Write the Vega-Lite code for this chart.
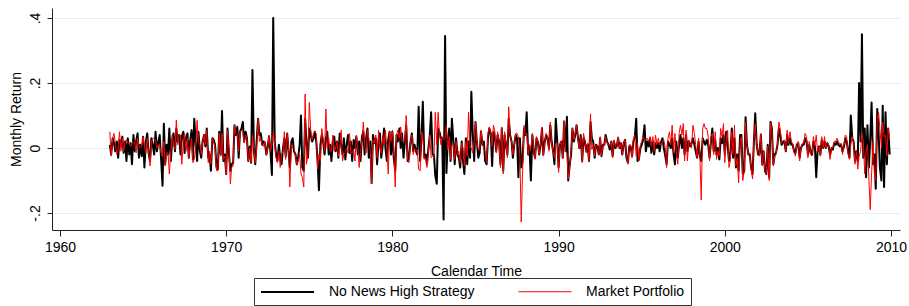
{
"$schema":"https://vega.github.io/schema/vega-lite/v6.json",
"width":848,"height":222,
"autosize":{"type":"none"},
"padding":{"left":52,"top":8,"right":9,"bottom":76},
"background":"white",
"config":{"view":{"stroke":null},"font":"Liberation Sans"},
"datasets":{"r":[
{"t":1963.00,"n":0.01,"m":0.05},{"t":1963.08,"n":-0.02,"m":-0.025},{"t":1963.17,"n":0.03,"m":0.03},{"t":1963.25,"n":0.015,"m":0.045},{"t":1963.33,"n":-0.01,"m":0.015},{"t":1963.42,"n":0.02,"m":-0.02},{"t":1963.50,"n":-0.03,"m":-0.005},{"t":1963.58,"n":0.025,"m":0.05},{"t":1963.67,"n":0.005,"m":-0.01},{"t":1963.75,"n":0.035,"m":0.03},{"t":1963.83,"n":-0.015,"m":-0.01},{"t":1963.92,"n":0.02,"m":0.02},
{"t":1964.00,"n":-0.04,"m":0.025},{"t":1964.08,"n":0.03,"m":0.015},{"t":1964.17,"n":-0.02,"m":0.015},{"t":1964.25,"n":0.015,"m":0.005},{"t":1964.33,"n":-0.05,"m":0.015},{"t":1964.42,"n":0.04,"m":0.015},{"t":1964.50,"n":-0.01,"m":0.02},{"t":1964.58,"n":0.02,"m":-0.015},{"t":1964.67,"n":0.045,"m":0.03},{"t":1964.75,"n":-0.03,"m":0.01},{"t":1964.83,"n":0.01,"m":0.0},{"t":1964.92,"n":-0.025,"m":0.005},
{"t":1965.00,"n":0.035,"m":0.035},{"t":1965.08,"n":-0.06,"m":0.005},{"t":1965.17,"n":0.02,"m":-0.015},{"t":1965.25,"n":0.045,"m":0.03},{"t":1965.33,"n":-0.015,"m":-0.01},{"t":1965.42,"n":-0.04,"m":-0.055},{"t":1965.50,"n":0.03,"m":0.015},{"t":1965.58,"n":0.01,"m":0.03},{"t":1965.67,"n":-0.02,"m":0.03},{"t":1965.75,"n":0.05,"m":0.025},{"t":1965.83,"n":-0.01,"m":0.0},{"t":1965.92,"n":0.02,"m":0.01},
{"t":1966.00,"n":0.04,"m":0.005},{"t":1966.08,"n":-0.03,"m":-0.015},{"t":1966.17,"n":-0.116,"m":-0.025},{"t":1966.25,"n":0.075,"m":0.02},{"t":1966.33,"n":-0.05,"m":-0.055},{"t":1966.42,"n":0.01,"m":-0.015},{"t":1966.50,"n":-0.02,"m":-0.015},{"t":1966.58,"n":0.06,"m":-0.08},{"t":1966.67,"n":-0.04,"m":-0.01},{"t":1966.75,"n":0.025,"m":0.04},{"t":1966.83,"n":0.045,"m":0.01},{"t":1966.92,"n":-0.01,"m":-0.005},
{"t":1967.00,"n":0.06,"m":0.086},{"t":1967.08,"n":0.02,"m":0.01},{"t":1967.17,"n":0.04,"m":0.04},{"t":1967.25,"n":-0.02,"m":0.04},{"t":1967.33,"n":0.035,"m":-0.05},{"t":1967.42,"n":0.05,"m":0.02},{"t":1967.50,"n":-0.015,"m":0.045},{"t":1967.58,"n":0.03,"m":-0.01},{"t":1967.67,"n":0.045,"m":0.03},{"t":1967.75,"n":-0.03,"m":-0.03},{"t":1967.83,"n":0.02,"m":0.005},{"t":1967.92,"n":0.055,"m":0.03},
{"t":1968.00,"n":-0.035,"m":-0.045},{"t":1968.08,"n":0.09,"m":-0.035},{"t":1968.17,"n":0.01,"m":0.005},{"t":1968.25,"n":-0.04,"m":0.085},{"t":1968.33,"n":0.05,"m":0.02},{"t":1968.42,"n":-0.01,"m":0.01},{"t":1968.50,"n":-0.03,"m":-0.02},{"t":1968.58,"n":0.02,"m":0.015},{"t":1968.67,"n":0.04,"m":0.04},{"t":1968.75,"n":0.005,"m":0.01},{"t":1968.83,"n":0.06,"m":0.055},{"t":1968.92,"n":-0.03,"m":-0.045},
{"t":1969.00,"n":-0.02,"m":-0.01},{"t":1969.08,"n":-0.07,"m":-0.05},{"t":1969.17,"n":0.03,"m":0.03},{"t":1969.25,"n":0.025,"m":0.02},{"t":1969.33,"n":0.01,"m":0.0},{"t":1969.42,"n":-0.06,"m":-0.07},{"t":1969.50,"n":-0.065,"m":-0.07},{"t":1969.58,"n":0.05,"m":0.045},{"t":1969.67,"n":-0.02,"m":-0.025},{"t":1969.75,"n":0.114,"m":0.045},{"t":1969.83,"n":-0.04,"m":-0.035},{"t":1969.92,"n":-0.02,"m":-0.025},
{"t":1970.00,"n":-0.08,"m":-0.08},{"t":1970.08,"n":0.06,"m":0.055},{"t":1970.17,"n":-0.02,"m":-0.005},{"t":1970.25,"n":-0.07,"m":-0.11},{"t":1970.33,"n":-0.05,"m":-0.06},{"t":1970.42,"n":-0.045,"m":-0.055},{"t":1970.50,"n":0.07,"m":0.07},{"t":1970.58,"n":0.04,"m":0.045},{"t":1970.67,"n":0.065,"m":0.04},{"t":1970.75,"n":-0.03,"m":-0.01},{"t":1970.83,"n":0.05,"m":0.05},{"t":1970.92,"n":0.06,"m":0.055},
{"t":1971.00,"n":0.08,"m":0.05},{"t":1971.08,"n":0.02,"m":0.015},{"t":1971.17,"n":0.05,"m":0.04},{"t":1971.25,"n":0.03,"m":0.03},{"t":1971.33,"n":-0.04,"m":-0.04},{"t":1971.42,"n":0.005,"m":0.0},{"t":1971.50,"n":-0.045,"m":-0.045},{"t":1971.58,"n":0.24,"m":0.04},{"t":1971.67,"n":-0.01,"m":-0.005},{"t":1971.75,"n":-0.05,"m":-0.045},{"t":1971.83,"n":0.02,"m":-0.005},{"t":1971.92,"n":0.09,"m":0.09},
{"t":1972.00,"n":0.04,"m":0.02},{"t":1972.08,"n":0.045,"m":0.03},{"t":1972.17,"n":0.01,"m":0.01},{"t":1972.25,"n":0.02,"m":0.005},{"t":1972.33,"n":0.015,"m":0.02},{"t":1972.42,"n":-0.02,"m":-0.02},{"t":1972.50,"n":0.005,"m":0.0},{"t":1972.58,"n":0.035,"m":0.04},{"t":1972.67,"n":-0.015,"m":-0.01},{"t":1972.75,"n":-0.083,"m":0.01},{"t":1972.83,"n":0.40,"m":0.05},{"t":1972.92,"n":0.02,"m":0.01},
{"t":1973.00,"n":-0.02,"m":-0.03},{"t":1973.08,"n":-0.04,"m":-0.045},{"t":1973.17,"n":0.01,"m":-0.01},{"t":1973.25,"n":-0.03,"m":-0.06},{"t":1973.33,"n":-0.05,"m":-0.02},{"t":1973.42,"n":0.0,"m":-0.01},{"t":1973.50,"n":0.03,"m":0.05},{"t":1973.58,"n":-0.025,"m":-0.035},{"t":1973.67,"n":0.045,"m":0.045},{"t":1973.75,"n":-0.01,"m":0.0},{"t":1973.83,"n":-0.06,"m":-0.12},{"t":1973.92,"n":0.02,"m":0.01},
{"t":1974.00,"n":0.03,"m":0.0},{"t":1974.08,"n":-0.01,"m":0.0},{"t":1974.17,"n":-0.02,"m":-0.025},{"t":1974.25,"n":-0.05,"m":-0.05},{"t":1974.33,"n":-0.03,"m":-0.04},{"t":1974.42,"n":0.01,"m":-0.02},{"t":1974.50,"n":0.10,"m":-0.08},{"t":1974.58,"n":-0.06,"m":-0.09},{"t":1974.67,"n":-0.07,"m":-0.12},{"t":1974.75,"n":0.09,"m":0.166},{"t":1974.83,"n":0.02,"m":-0.05},{"t":1974.92,"n":-0.03,"m":-0.02},
{"t":1975.00,"n":0.06,"m":0.14},{"t":1975.08,"n":0.04,"m":0.06},{"t":1975.17,"n":0.02,"m":0.025},{"t":1975.25,"n":0.03,"m":0.045},{"t":1975.33,"n":0.05,"m":0.05},{"t":1975.42,"n":0.02,"m":0.045},{"t":1975.50,"n":-0.04,"m":-0.065},{"t":1975.58,"n":-0.13,"m":-0.02},{"t":1975.67,"n":0.01,"m":-0.04},{"t":1975.75,"n":0.04,"m":0.06},{"t":1975.83,"n":0.02,"m":0.03},{"t":1975.92,"n":-0.02,"m":-0.01},
{"t":1976.00,"n":0.03,"m":0.12},{"t":1976.08,"n":0.05,"m":0.0},{"t":1976.17,"n":-0.02,"m":0.03},{"t":1976.25,"n":0.01,"m":-0.01},{"t":1976.33,"n":-0.04,"m":-0.01},{"t":1976.42,"n":0.02,"m":0.04},{"t":1976.50,"n":0.035,"m":-0.01},{"t":1976.58,"n":-0.01,"m":0.0},{"t":1976.67,"n":0.02,"m":0.02},{"t":1976.75,"n":-0.03,"m":-0.025},{"t":1976.83,"n":0.045,"m":0.0},{"t":1976.92,"n":0.01,"m":0.055},
{"t":1977.00,"n":-0.02,"m":-0.04},{"t":1977.08,"n":0.03,"m":-0.02},{"t":1977.17,"n":-0.035,"m":-0.015},{"t":1977.25,"n":0.01,"m":0.0},{"t":1977.33,"n":0.04,"m":-0.015},{"t":1977.42,"n":-0.015,"m":0.045},{"t":1977.50,"n":0.02,"m":-0.015},{"t":1977.58,"n":-0.04,"m":-0.015},{"t":1977.67,"n":0.025,"m":-0.005},{"t":1977.75,"n":0.0,"m":-0.04},{"t":1977.83,"n":0.035,"m":0.04},{"t":1977.92,"n":-0.02,"m":0.0},
{"t":1978.00,"n":0.02,"m":-0.06},{"t":1978.08,"n":-0.04,"m":-0.015},{"t":1978.17,"n":0.035,"m":0.025},{"t":1978.25,"n":0.05,"m":0.08},{"t":1978.33,"n":-0.02,"m":0.01},{"t":1978.42,"n":0.03,"m":-0.015},{"t":1978.50,"n":0.06,"m":0.055},{"t":1978.58,"n":-0.03,"m":0.03},{"t":1978.67,"n":0.02,"m":-0.01},{"t":1978.75,"n":-0.108,"m":-0.11},{"t":1978.83,"n":0.04,"m":0.025},{"t":1978.92,"n":0.015,"m":0.015},
{"t":1979.00,"n":0.03,"m":0.04},{"t":1979.08,"n":-0.05,"m":-0.03},{"t":1979.17,"n":0.02,"m":0.055},{"t":1979.25,"n":0.045,"m":0.0},{"t":1979.33,"n":-0.03,"m":-0.015},{"t":1979.42,"n":0.01,"m":0.04},{"t":1979.50,"n":0.06,"m":0.01},{"t":1979.58,"n":0.0,"m":0.055},{"t":1979.67,"n":-0.04,"m":0.0},{"t":1979.75,"n":0.025,"m":-0.08},{"t":1979.83,"n":0.05,"m":0.05},{"t":1979.92,"n":-0.02,"m":0.02},
{"t":1980.00,"n":0.05,"m":0.055},{"t":1980.08,"n":-0.03,"m":0.0},{"t":1980.17,"n":-0.07,"m":-0.12},{"t":1980.25,"n":0.04,"m":0.04},{"t":1980.33,"n":0.02,"m":0.055},{"t":1980.42,"n":0.06,"m":0.03},{"t":1980.50,"n":0.0,"m":0.065},{"t":1980.58,"n":0.045,"m":0.02},{"t":1980.67,"n":-0.03,"m":0.025},{"t":1980.75,"n":0.02,"m":0.02},{"t":1980.83,"n":0.07,"m":0.10},{"t":1980.92,"n":-0.04,"m":-0.035},
{"t":1981.00,"n":-0.03,"m":-0.045},{"t":1981.08,"n":0.015,"m":0.015},{"t":1981.17,"n":0.045,"m":0.04},{"t":1981.25,"n":-0.01,"m":-0.02},{"t":1981.33,"n":0.01,"m":0.0},{"t":1981.42,"n":-0.01,"m":-0.01},{"t":1981.50,"n":-0.02,"m":-0.005},{"t":1981.58,"n":0.127,"m":-0.065},{"t":1981.67,"n":-0.04,"m":-0.07},{"t":1981.75,"n":0.03,"m":0.05},{"t":1981.83,"n":0.142,"m":0.04},{"t":1981.92,"n":-0.03,"m":-0.035},
{"t":1982.00,"n":-0.02,"m":-0.03},{"t":1982.08,"n":-0.05,"m":-0.06},{"t":1982.17,"n":0.0,"m":-0.01},{"t":1982.25,"n":0.04,"m":0.04},{"t":1982.33,"n":0.11,"m":-0.03},{"t":1982.42,"n":-0.02,"m":-0.025},{"t":1982.50,"n":-0.02,"m":-0.03},{"t":1982.58,"n":-0.085,"m":0.11},{"t":1982.67,"n":-0.11,"m":0.01},{"t":1982.75,"n":0.06,"m":0.11},{"t":1982.83,"n":0.05,"m":0.045},{"t":1982.92,"n":0.03,"m":0.01},
{"t":1983.00,"n":0.03,"m":0.035},{"t":1983.08,"n":-0.22,"m":0.025},{"t":1983.17,"n":0.345,"m":0.03},{"t":1983.25,"n":-0.077,"m":0.07},{"t":1983.33,"n":0.02,"m":-0.005},{"t":1983.42,"n":0.06,"m":0.035},{"t":1983.50,"n":-0.04,"m":-0.035},{"t":1983.58,"n":0.09,"m":0.01},{"t":1983.67,"n":0.02,"m":0.01},{"t":1983.75,"n":-0.05,"m":-0.035},{"t":1983.83,"n":0.03,"m":0.02},{"t":1983.92,"n":-0.02,"m":-0.02},
{"t":1984.00,"n":-0.03,"m":-0.01},{"t":1984.08,"n":-0.06,"m":-0.045},{"t":1984.17,"n":0.02,"m":0.015},{"t":1984.25,"n":-0.04,"m":0.0},{"t":1984.33,"n":-0.08,"m":-0.055},{"t":1984.42,"n":0.03,"m":0.02},{"t":1984.50,"n":-0.05,"m":-0.025},{"t":1984.58,"n":0.02,"m":0.11},{"t":1984.67,"n":-0.03,"m":0.0},{"t":1984.75,"n":0.173,"m":0.0},{"t":1984.83,"n":0.05,"m":-0.015},{"t":1984.92,"n":-0.04,"m":0.02},
{"t":1985.00,"n":0.08,"m":0.08},{"t":1985.08,"n":0.02,"m":0.015},{"t":1985.17,"n":-0.03,"m":-0.005},{"t":1985.25,"n":-0.015,"m":-0.005},{"t":1985.33,"n":0.05,"m":0.055},{"t":1985.42,"n":0.01,"m":0.015},{"t":1985.50,"n":0.02,"m":-0.005},{"t":1985.58,"n":-0.04,"m":-0.01},{"t":1985.67,"n":-0.05,"m":-0.045},{"t":1985.75,"n":0.03,"m":0.045},{"t":1985.83,"n":0.06,"m":0.065},{"t":1985.92,"n":0.045,"m":0.045},
{"t":1986.00,"n":-0.055,"m":0.005},{"t":1986.08,"n":0.05,"m":0.07},{"t":1986.17,"n":0.03,"m":0.05},{"t":1986.25,"n":-0.01,"m":-0.015},{"t":1986.33,"n":0.04,"m":0.05},{"t":1986.42,"n":0.02,"m":0.015},{"t":1986.50,"n":-0.05,"m":-0.06},{"t":1986.58,"n":0.06,"m":0.065},{"t":1986.67,"n":-0.07,"m":-0.08},{"t":1986.75,"n":0.04,"m":0.05},{"t":1986.83,"n":0.01,"m":0.015},{"t":1986.92,"n":-0.02,"m":-0.03},
{"t":1987.00,"n":0.09,"m":0.127},{"t":1987.08,"n":0.04,"m":0.04},{"t":1987.17,"n":0.02,"m":0.02},{"t":1987.25,"n":-0.03,"m":-0.02},{"t":1987.33,"n":0.01,"m":0.005},{"t":1987.42,"n":0.04,"m":0.045},{"t":1987.50,"n":0.03,"m":0.045},{"t":1987.58,"n":-0.09,"m":0.035},{"t":1987.67,"n":0.03,"m":-0.025},{"t":1987.75,"n":-0.06,"m":-0.228},{"t":1987.83,"n":-0.04,"m":-0.08},{"t":1987.92,"n":0.06,"m":0.07},
{"t":1988.00,"n":0.04,"m":0.04},{"t":1988.08,"n":0.11,"m":0.045},{"t":1988.17,"n":-0.02,"m":-0.02},{"t":1988.25,"n":0.0,"m":0.01},{"t":1988.33,"n":-0.10,"m":0.0},{"t":1988.42,"n":0.04,"m":0.045},{"t":1988.50,"n":-0.01,"m":-0.01},{"t":1988.58,"n":-0.03,"m":-0.035},{"t":1988.67,"n":0.03,"m":0.035},{"t":1988.75,"n":0.02,"m":0.02},{"t":1988.83,"n":-0.02,"m":-0.02},{"t":1988.92,"n":0.01,"m":0.015},
{"t":1989.00,"n":0.06,"m":0.065},{"t":1989.08,"n":-0.02,"m":-0.025},{"t":1989.17,"n":0.02,"m":0.02},{"t":1989.25,"n":0.04,"m":0.045},{"t":1989.33,"n":0.03,"m":0.035},{"t":1989.42,"n":0.0,"m":-0.01},{"t":1989.50,"n":0.07,"m":0.08},{"t":1989.58,"n":0.02,"m":0.015},{"t":1989.67,"n":-0.01,"m":-0.01},{"t":1989.75,"n":-0.05,"m":-0.03},{"t":1989.83,"n":0.09,"m":0.015},{"t":1989.92,"n":0.02,"m":0.015},
{"t":1990.00,"n":-0.06,"m":-0.075},{"t":1990.08,"n":0.01,"m":0.01},{"t":1990.17,"n":0.02,"m":0.02},{"t":1990.25,"n":-0.03,"m":-0.03},{"t":1990.33,"n":0.08,"m":0.085},{"t":1990.42,"n":-0.01,"m":-0.01},{"t":1990.50,"n":0.096,"m":-0.015},{"t":1990.58,"n":-0.1,"m":-0.095},{"t":1990.67,"n":-0.05,"m":-0.055},{"t":1990.75,"n":-0.02,"m":-0.01},{"t":1990.83,"n":0.06,"m":0.06},{"t":1990.92,"n":0.02,"m":0.025},
{"t":1991.00,"n":0.04,"m":0.045},{"t":1991.08,"n":0.07,"m":0.07},{"t":1991.17,"n":0.03,"m":0.025},{"t":1991.25,"n":0.0,"m":0.0},{"t":1991.33,"n":0.04,"m":0.035},{"t":1991.42,"n":-0.04,"m":-0.045},{"t":1991.50,"n":0.03,"m":0.045},{"t":1991.58,"n":0.02,"m":0.025},{"t":1991.67,"n":-0.01,"m":-0.015},{"t":1991.75,"n":0.01,"m":0.015},{"t":1991.83,"n":-0.04,"m":-0.04},{"t":1991.92,"n":0.08,"m":0.105},
{"t":1992.00,"n":0.03,"m":-0.005},{"t":1992.08,"n":0.02,"m":0.01},{"t":1992.17,"n":-0.03,"m":-0.025},{"t":1992.25,"n":0.01,"m":0.01},{"t":1992.33,"n":0.005,"m":0.005},{"t":1992.42,"n":-0.02,"m":-0.02},{"t":1992.50,"n":0.03,"m":0.035},{"t":1992.58,"n":-0.025,"m":-0.025},{"t":1992.67,"n":0.01,"m":0.01},{"t":1992.75,"n":0.01,"m":0.01},{"t":1992.83,"n":0.04,"m":0.035},{"t":1992.92,"n":0.02,"m":0.015},
{"t":1993.00,"n":0.01,"m":0.01},{"t":1993.08,"n":-0.005,"m":0.005},{"t":1993.17,"n":0.02,"m":0.02},{"t":1993.25,"n":-0.025,"m":-0.03},{"t":1993.33,"n":0.02,"m":0.025},{"t":1993.42,"n":0.0,"m":0.005},{"t":1993.50,"n":0.005,"m":0.0},{"t":1993.58,"n":0.03,"m":0.035},{"t":1993.67,"n":0.0,"m":0.0},{"t":1993.75,"n":0.015,"m":0.015},{"t":1993.83,"n":-0.02,"m":-0.02},{"t":1993.92,"n":0.015,"m":0.015},
{"t":1994.00,"n":0.025,"m":0.025},{"t":1994.08,"n":-0.03,"m":-0.025},{"t":1994.17,"n":-0.045,"m":-0.05},{"t":1994.25,"n":0.005,"m":0.01},{"t":1994.33,"n":0.005,"m":0.01},{"t":1994.42,"n":-0.025,"m":-0.03},{"t":1994.50,"n":0.02,"m":0.03},{"t":1994.58,"n":0.03,"m":0.04},{"t":1994.67,"n":0.09,"m":-0.025},{"t":1994.75,"n":-0.04,"m":0.015},{"t":1994.83,"n":-0.035,"m":-0.04},{"t":1994.92,"n":0.0,"m":0.01},
{"t":1995.00,"n":0.01,"m":0.02},{"t":1995.08,"n":0.025,"m":0.035},{"t":1995.17,"n":0.07,"m":0.025},{"t":1995.25,"n":-0.01,"m":0.025},{"t":1995.33,"n":0.02,"m":0.03},{"t":1995.42,"n":0.005,"m":0.02},{"t":1995.50,"n":0.03,"m":0.035},{"t":1995.58,"n":-0.015,"m":0.005},{"t":1995.67,"n":0.02,"m":0.035},{"t":1995.75,"n":-0.02,"m":-0.01},{"t":1995.83,"n":0.015,"m":0.04},{"t":1995.92,"n":0.0,"m":0.01},
{"t":1996.00,"n":0.015,"m":0.03},{"t":1996.08,"n":-0.01,"m":0.01},{"t":1996.17,"n":0.02,"m":0.01},{"t":1996.25,"n":0.03,"m":0.02},{"t":1996.33,"n":0.0,"m":0.025},{"t":1996.42,"n":-0.025,"m":0.0},{"t":1996.50,"n":-0.05,"m":-0.06},{"t":1996.58,"n":0.02,"m":0.03},{"t":1996.67,"n":0.01,"m":0.05},{"t":1996.75,"n":0.0,"m":0.01},{"t":1996.83,"n":0.03,"m":0.07},{"t":1996.92,"n":-0.02,"m":-0.015},
{"t":1997.00,"n":-0.05,"m":0.045},{"t":1997.08,"n":0.02,"m":-0.01},{"t":1997.17,"n":-0.03,"m":-0.05},{"t":1997.25,"n":0.01,"m":0.045},{"t":1997.33,"n":0.04,"m":0.07},{"t":1997.42,"n":0.0,"m":0.04},{"t":1997.50,"n":0.03,"m":0.075},{"t":1997.58,"n":-0.02,"m":-0.04},{"t":1997.67,"n":0.04,"m":0.055},{"t":1997.75,"n":-0.01,"m":-0.04},{"t":1997.83,"n":0.02,"m":0.025},{"t":1997.92,"n":0.005,"m":0.015},
{"t":1998.00,"n":0.015,"m":0.0},{"t":1998.08,"n":0.03,"m":0.07},{"t":1998.17,"n":0.01,"m":0.045},{"t":1998.25,"n":-0.01,"m":0.01},{"t":1998.33,"n":-0.03,"m":-0.03},{"t":1998.42,"n":0.02,"m":0.03},{"t":1998.50,"n":-0.025,"m":-0.025},{"t":1998.58,"n":-0.04,"m":-0.16},{"t":1998.67,"n":0.03,"m":0.06},{"t":1998.75,"n":0.02,"m":0.075},{"t":1998.83,"n":0.01,"m":0.06},{"t":1998.92,"n":0.025,"m":0.06},
{"t":1999.00,"n":0.01,"m":0.035},{"t":1999.08,"n":-0.03,"m":-0.04},{"t":1999.17,"n":0.02,"m":0.035},{"t":1999.25,"n":0.06,"m":0.045},{"t":1999.33,"n":-0.01,"m":-0.02},{"t":1999.42,"n":0.025,"m":0.05},{"t":1999.50,"n":-0.02,"m":-0.035},{"t":1999.58,"n":0.0,"m":-0.01},{"t":1999.67,"n":-0.035,"m":-0.025},{"t":1999.75,"n":0.03,"m":0.06},{"t":1999.83,"n":0.015,"m":0.035},{"t":1999.92,"n":0.04,"m":0.075},
{"t":2000.00,"n":-0.02,"m":-0.045},{"t":2000.08,"n":0.05,"m":0.02},{"t":2000.17,"n":0.01,"m":0.055},{"t":2000.25,"n":-0.04,"m":-0.06},{"t":2000.33,"n":-0.02,"m":-0.04},{"t":2000.42,"n":0.06,"m":0.05},{"t":2000.50,"n":-0.03,"m":-0.02},{"t":2000.58,"n":0.03,"m":0.07},{"t":2000.67,"n":-0.06,"m":-0.055},{"t":2000.75,"n":-0.02,"m":-0.03},{"t":2000.83,"n":-0.07,"m":-0.107},{"t":2000.92,"n":0.04,"m":0.02},
{"t":2001.00,"n":0.04,"m":0.035},{"t":2001.08,"n":-0.08,"m":-0.1},{"t":2001.17,"n":-0.07,"m":-0.07},{"t":2001.25,"n":0.095,"m":0.08},{"t":2001.33,"n":0.01,"m":0.01},{"t":2001.42,"n":-0.02,"m":-0.02},{"t":2001.50,"n":-0.02,"m":-0.015},{"t":2001.58,"n":-0.06,"m":-0.065},{"t":2001.67,"n":-0.08,"m":-0.095},{"t":2001.75,"n":0.02,"m":0.025},{"t":2001.83,"n":0.107,"m":0.075},{"t":2001.92,"n":0.01,"m":0.01},
{"t":2002.00,"n":-0.02,"m":-0.02},{"t":2002.08,"n":-0.02,"m":-0.025},{"t":2002.17,"n":0.04,"m":0.045},{"t":2002.25,"n":-0.05,"m":-0.055},{"t":2002.33,"n":-0.01,"m":-0.01},{"t":2002.42,"n":-0.07,"m":-0.075},{"t":2002.50,"n":-0.08,"m":-0.08},{"t":2002.58,"n":0.01,"m":0.005},{"t":2002.67,"n":-0.09,"m":-0.10},{"t":2002.75,"n":0.08,"m":0.077},{"t":2002.83,"n":0.06,"m":0.055},{"t":2002.92,"n":-0.05,"m":-0.055},
{"t":2003.00,"n":-0.02,"m":-0.025},{"t":2003.08,"n":-0.015,"m":-0.02},{"t":2003.17,"n":0.01,"m":0.01},{"t":2003.25,"n":0.06,"m":0.08},{"t":2003.33,"n":0.04,"m":0.06},{"t":2003.42,"n":0.01,"m":0.015},{"t":2003.50,"n":0.02,"m":0.02},{"t":2003.58,"n":0.02,"m":0.025},{"t":2003.67,"n":-0.01,"m":-0.01},{"t":2003.75,"n":0.04,"m":0.055},{"t":2003.83,"n":0.01,"m":0.015},{"t":2003.92,"n":0.03,"m":0.05},
{"t":2004.00,"n":0.01,"m":0.02},{"t":2004.08,"n":0.01,"m":0.015},{"t":2004.17,"n":-0.01,"m":-0.015},{"t":2004.25,"n":-0.015,"m":-0.025},{"t":2004.33,"n":0.01,"m":0.01},{"t":2004.42,"n":0.015,"m":0.02},{"t":2004.50,"n":-0.03,"m":-0.04},{"t":2004.58,"n":0.0,"m":0.0},{"t":2004.67,"n":0.01,"m":0.015},{"t":2004.75,"n":0.01,"m":0.015},{"t":2004.83,"n":0.03,"m":0.045},{"t":2004.92,"n":0.02,"m":0.035},
{"t":2005.00,"n":-0.02,"m":-0.03},{"t":2005.08,"n":0.01,"m":0.02},{"t":2005.17,"n":-0.015,"m":-0.02},{"t":2005.25,"n":-0.02,"m":-0.025},{"t":2005.33,"n":0.02,"m":0.035},{"t":2005.42,"n":0.005,"m":0.005},{"t":2005.50,"n":-0.09,"m":0.04},{"t":2005.58,"n":-0.01,"m":-0.01},{"t":2005.67,"n":0.005,"m":0.005},{"t":2005.75,"n":-0.02,"m":-0.025},{"t":2005.83,"n":0.025,"m":0.035},{"t":2005.92,"n":0.0,"m":0.0},
{"t":2006.00,"n":0.02,"m":0.035},{"t":2006.08,"n":0.0,"m":0.0},{"t":2006.17,"n":0.015,"m":0.015},{"t":2006.25,"n":0.005,"m":0.01},{"t":2006.33,"n":-0.02,"m":-0.035},{"t":2006.42,"n":0.0,"m":0.0},{"t":2006.50,"n":-0.005,"m":0.0},{"t":2006.58,"n":0.015,"m":0.02},{"t":2006.67,"n":0.01,"m":0.02},{"t":2006.75,"n":0.02,"m":0.03},{"t":2006.83,"n":0.01,"m":0.02},{"t":2006.92,"n":0.005,"m":0.01},
{"t":2007.00,"n":0.01,"m":0.015},{"t":2007.08,"n":-0.01,"m":-0.02},{"t":2007.17,"n":0.005,"m":0.01},{"t":2007.25,"n":0.03,"m":0.04},{"t":2007.33,"n":0.02,"m":0.035},{"t":2007.42,"n":-0.01,"m":-0.02},{"t":2007.50,"n":-0.03,"m":-0.035},{"t":2007.58,"n":0.10,"m":0.01},{"t":2007.67,"n":0.03,"m":0.035},{"t":2007.75,"n":0.02,"m":0.015},{"t":2007.83,"n":-0.04,"m":-0.05},{"t":2007.92,"n":-0.01,"m":-0.01},
{"t":2008.00,"n":-0.04,"m":-0.065},{"t":2008.08,"n":0.2,"m":-0.025},{"t":2008.17,"n":0.02,"m":-0.01},{"t":2008.25,"n":0.35,"m":0.045},{"t":2008.33,"n":-0.03,"m":0.02},{"t":2008.42,"n":0.06,"m":-0.08},{"t":2008.50,"n":-0.09,"m":-0.01},{"t":2008.58,"n":0.07,"m":0.01},{"t":2008.67,"n":-0.06,"m":-0.095},{"t":2008.75,"n":0.03,"m":-0.19},{"t":2008.83,"n":0.14,"m":-0.08},{"t":2008.92,"n":-0.05,"m":0.02},
{"t":2009.00,"n":-0.02,"m":-0.08},{"t":2009.08,"n":-0.125,"m":-0.10},{"t":2009.17,"n":0.12,"m":0.09},{"t":2009.25,"n":0.05,"m":0.11},{"t":2009.33,"n":-0.06,"m":0.06},{"t":2009.42,"n":-0.1,"m":0.0},{"t":2009.50,"n":0.13,"m":0.08},{"t":2009.58,"n":-0.12,"m":0.035},{"t":2009.67,"n":0.11,"m":0.04},{"t":2009.75,"n":-0.05,"m":-0.025},{"t":2009.83,"n":0.06,"m":0.06},{"t":2009.92,"n":-0.02,"m":0.03}
]},
"data":{"name":"r"},
"transform":[{"fold":["n","m"],"as":["s","v"]}],
"mark":{"type":"line","strokeJoin":"round"},
"encoding":{
"x":{"field":"t","type":"quantitative","scale":{"domain":[1959.52,2010.54],"nice":false,"zero":false},
"axis":{"values":[1960,1970,1980,1990,2000,2010],"format":"d","grid":false,"title":"Calendar Time","domainColor":"#222","tickColor":"#222","tickSize":6,"labelFontSize":14,"labelColor":"#000","labelBaseline":"alphabetic","labelPadding":15,"titleFontSize":14,"titleFontWeight":"normal","titleColor":"#000","titleX":424,"titleY":45,"titleAlign":"center","titleBaseline":"alphabetic"}},
"y":{"field":"v","type":"quantitative","scale":{"domain":[-0.2523,0.4308],"nice":false,"zero":false},
"axis":{"values":[-0.2,0,0.2,0.4],"labelExpr":"datum.value == 0 ? '0' : (datum.value < 0 ? '-' : '') + '.' + format(abs(datum.value)*10, 'd')","grid":true,"gridColor":"#e6eff1","gridWidth":1,"domainColor":"#222","tickColor":"#222","tickSize":5,"labelFontSize":14,"labelColor":"#000","labelAngle":270,"labelAlign":"center","labelBaseline":"alphabetic","labelPadding":8,"title":"Monthly Return","titleFontSize":14,"titleFontWeight":"normal","titleColor":"#000","titleAngle":270,"titleX":-31.5,"titleY":111,"titleAlign":"center","titleBaseline":"alphabetic"}},
"color":{"field":"s","type":"nominal","scale":{"domain":["n","m"],"range":["#000000","#ff0000"]},
"legend":{"orient":"none","legendX":202,"legendY":270,"direction":"horizontal","title":null,"symbolType":"M-1,0H6.57","symbolSize":196,"symbolStrokeWidth":2,"labelFontSize":14,"labelColor":"#000","labelOffset":53,"columnPadding":41,"padding":6,"strokeColor":"#333","fillColor":"#ffffff","labelLimit":300,"labelExpr":"datum.label == 'n' ? 'No News High Strategy' : 'Market Portfolio'"}},
"strokeWidth":{"field":"s","type":"nominal","scale":{"domain":["n","m"],"range":[2,1]},"legend":null}
}
}
